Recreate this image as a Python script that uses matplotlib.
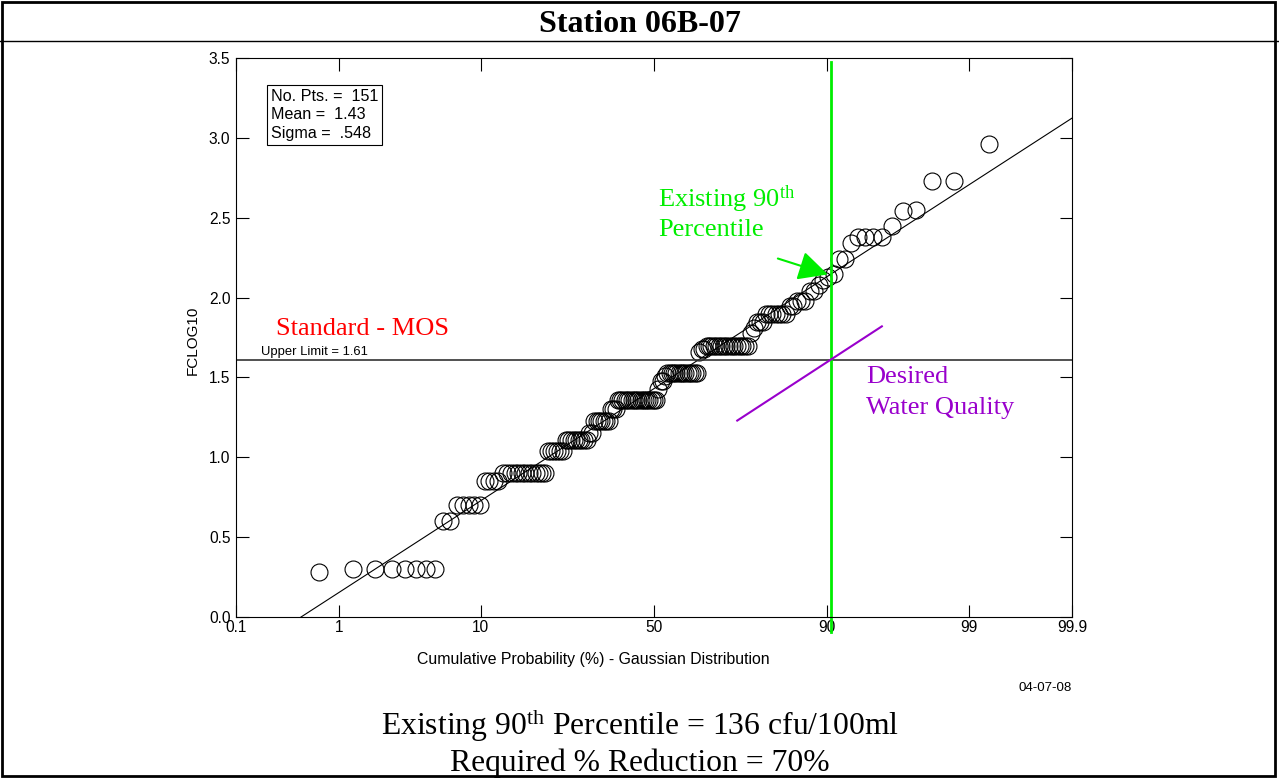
import matplotlib
matplotlib.use("Agg")
import numpy as np
import matplotlib.pyplot as plt
import matplotlib.transforms as mtransforms
from matplotlib.patches import Rectangle
from statistics import NormalDist

plt.rcParams['font.family'] = 'Liberation Sans'
plt.rcParams['mathtext.fontset'] = 'custom'
plt.rcParams['mathtext.rm'] = 'Liberation Serif'
plt.rcParams['mathtext.it'] = 'Liberation Serif:italic'
plt.rcParams['mathtext.bf'] = 'Liberation Serif:bold'

levels = [0.28, 0.30, 0.60, 0.70, 0.85, 0.90, 1.04, 1.11, 1.15, 1.23,
          1.30, 1.36, 1.43, 1.48, 1.51, 1.53, 1.66, 1.68, 1.70, 1.78,
          1.81, 1.85, 1.90, 1.95, 1.98, 2.04, 2.08, 2.11, 2.13, 2.15,
          2.24, 2.34, 2.38, 2.45, 2.54, 2.55, 2.73, 2.96]
counts = [1, 7, 2, 5, 4, 13, 6, 9, 2, 7,
          3, 18, 1, 2, 1, 14, 1, 2, 17, 1,
          1, 3, 7, 2, 3, 2, 1, 1, 1, 1,
          2, 1, 4, 1, 1, 1, 2, 1]

MEAN = 1.43
SIGMA = 0.548
UPPER = 1.61
prob_ticks = [0.1, 1, 10, 50, 90, 99, 99.9]
prob_labels = ['0.1', '1', '10', '50', '90', '99', '99.9']
y_ticks = [0.0, 0.5, 1.0, 1.5, 2.0, 2.5, 3.0, 3.5]

# annotation anchors (probability %, FCLOG10)
P90_LINE = 90.5
arrow_from = (81.5, 2.25)
arrow_to = (90.4, 2.14)
purple_from = (73.1, 1.23)
purple_to = (95.4, 1.82)

nd = NormalDist()
probit = lambda pct: nd.inv_cdf(pct / 100.0)

yvals = np.repeat(levels, counts)
n = len(yvals)
pos = np.arange(1, n + 1) / (n + 1) * 100
zvals = np.array([probit(p) for p in pos])

fig = plt.figure(figsize=(12.79, 7.78), dpi=100)
ax = fig.add_axes([0.1845, 0.2069, 0.6536, 0.7185])

ax.plot(zvals, yvals, 'o', mfc='none', mec='black', ms=12.2, mew=0.8)

zz = np.array([probit(prob_ticks[0]), probit(prob_ticks[-1])])
ax.plot(zz, MEAN + SIGMA * zz, color='black', lw=0.8)

ax.axhline(UPPER, color='#333333', lw=1.2)
trans = mtransforms.blended_transform_factory(ax.transAxes, ax.transData)
ax.text(0.03, UPPER + 0.012, 'Upper Limit = 1.61', transform=trans,
        fontsize=9.4, va='bottom', ha='left')

ax.text(0.042, 0.945, 'No. Pts. =  151\nMean =  1.43\nSigma =  .548',
        transform=ax.transAxes, fontsize=11.6, va='top', ha='left',
        linespacing=1.3,
        bbox=dict(boxstyle='square,pad=0.25', fc='white', ec='black', lw=0.8))

ax.set_xlim(zz[0], zz[1])
ax.set_ylim(0, 3.5)
ax.set_xticks([probit(p) for p in prob_ticks])
ax.set_xticklabels(prob_labels)
ax.set_yticks(y_ticks)
ax.set_yticklabels(['%.1f' % v for v in y_ticks])
ax.tick_params(direction='in', length=9, width=0.8, top=True, right=True,
               labelsize=11.2)
ax.tick_params(axis='x', pad=2)
ax.tick_params(axis='y', pad=4)
for s in ax.spines.values():
    s.set_linewidth(0.8)

# annotations
zp = probit(P90_LINE)
ax.plot([zp, zp], [-0.094, 3.475], color='#00ee00', lw=2, clip_on=False)
ax.annotate('', xy=(probit(arrow_to[0]), arrow_to[1]),
            xytext=(probit(arrow_from[0]), arrow_from[1]),
            arrowprops=dict(arrowstyle='-|>,head_length=0.9,head_width=0.45',
                            color='#00ee00', lw=1.5, mutation_scale=20))
ax.plot([probit(purple_from[0]), probit(purple_to[0])],
        [purple_from[1], purple_to[1]], color='#9900cc', lw=1.5)

serif = 'Liberation Serif'
ax.text(0.048, 0.515, 'Standard - MOS', transform=ax.transAxes, color='red',
        fontsize=19, family=serif, va='center', ha='left')
ax.text(0.505, 0.747, r'Existing 90$^{\mathrm{th}}$', transform=ax.transAxes,
        color='#00ee00', fontsize=19, family=serif, va='center', ha='left')
ax.text(0.505, 0.692, 'Percentile', transform=ax.transAxes,
        color='#00ee00', fontsize=19, family=serif, va='center', ha='left')
ax.text(0.754, 0.429, 'Desired', transform=ax.transAxes,
        color='#9900cc', fontsize=19, family=serif, va='center', ha='left')
ax.text(0.754, 0.374, 'Water Quality', transform=ax.transAxes,
        color='#9900cc', fontsize=19, family=serif, va='center', ha='left')

fig.text(0.4636, 0.1517, 'Cumulative Probability (%) - Gaussian Distribution',
         fontsize=11.4, ha='center', va='center')
fig.text(0.1509, 0.563, 'FCLOG10', fontsize=11, rotation=90,
         ha='center', va='center')
fig.text(0.838, 0.1157, '04-07-08', fontsize=9.6, ha='right', va='center')

fig.text(0.5, 0.969, 'Station 06B-07', fontsize=23, weight='bold',
         family=serif, ha='center', va='center')
fig.text(0.5, 0.068, r'Existing 90$^{\mathrm{th}}$ Percentile = 136 cfu/100ml',
         fontsize=22.8, family=serif, ha='center', va='center')
fig.text(0.5, 0.0195, 'Required % Reduction = 70%',
         fontsize=22.8, family=serif, ha='center', va='center')

fig.add_artist(Rectangle((0.0016, 0.0026), 0.9953, 0.9949, fill=False,
                         lw=2, ec='black', transform=fig.transFigure))
fig.add_artist(plt.Line2D([0, 1], [1 - 41 / 778, 1 - 41 / 778], lw=1,
                          color='black', transform=fig.transFigure))

fig.savefig('out.png', dpi=100)
